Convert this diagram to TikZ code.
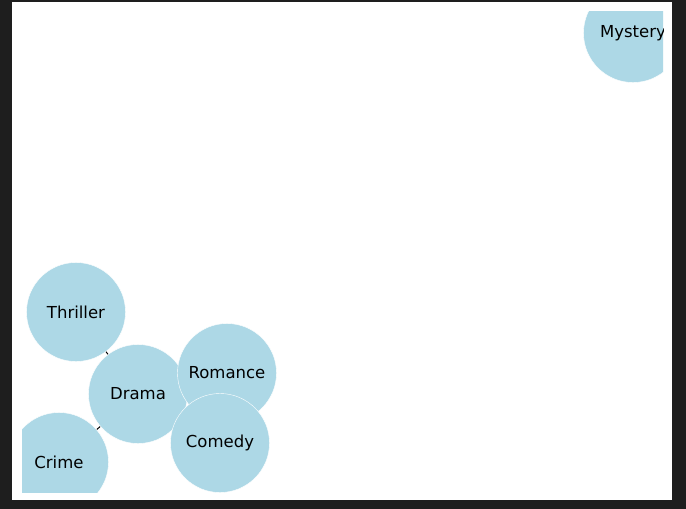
\documentclass[tikz,border=0pt]{standalone}
\usepackage{fontspec}
\setmainfont{DejaVu Sans}
\definecolor{nodeblue}{HTML}{ADD8E6}
\definecolor{frame}{HTML}{1E1E1E}

\begin{document}
\begin{tikzpicture}[x=1pt,y=-1pt,
    genre/.style={circle, fill=nodeblue, draw=white, line width=0.4pt,
        minimum size=99pt, inner sep=0pt, font=\fontsize{16.5}{18}\selectfont},
    link/.style={black, line width=1pt}]
        \fill[frame] (0,0) rectangle (686,509);
        \fill[white] (12,2) rectangle (672,500);
        \useasboundingbox (0,0) rectangle (686,509);

        \begin{scope}
        \clip (22,11) rectangle (663,492);
        \coordinate (drama) at (138,394);
        \coordinate (thriller) at (76,312);
        \coordinate (crime) at (59,462);
        \coordinate (romance) at (227,373);
        \coordinate (comedy) at (220,443);
        \coordinate (mystery) at (633,33);

        \draw[link] (drama) -- (thriller);
        \draw[link] (drama) -- (crime);
        \draw[link] (drama) -- (romance);
        \draw[link] (drama) -- (comedy);

        \node[genre] (n-drama) at (drama) {Drama};
        \node[genre] (n-thriller) at (thriller) {Thriller};
        \node[genre] (n-crime) at (crime) {Crime};
        \node[genre] (n-romance) at (romance) {Romance};
        \node[genre] (n-comedy) at (comedy) {Comedy};
        \node[genre] (n-mystery) at (mystery) {Mystery};
        \end{scope}
\end{tikzpicture}
\end{document}
